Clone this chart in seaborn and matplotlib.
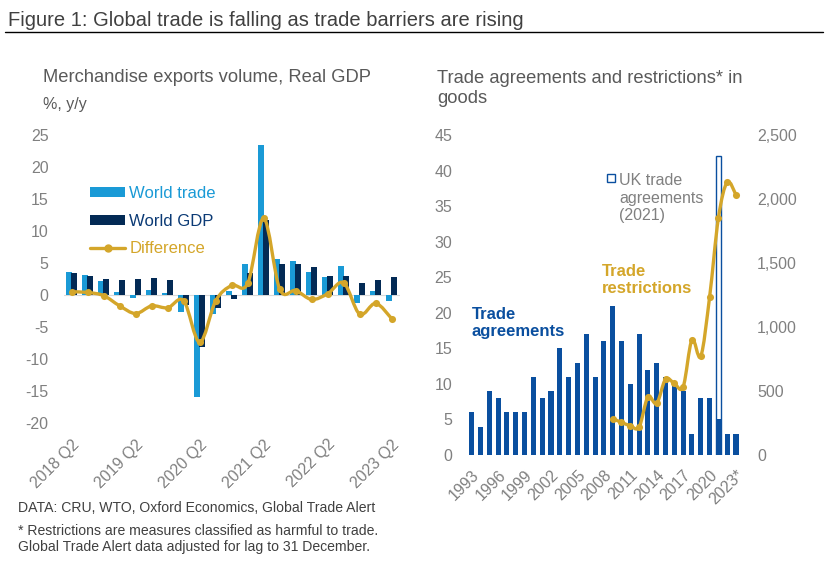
import numpy as np
import pandas as pd
import matplotlib
matplotlib.use("Agg")
import matplotlib.pyplot as plt
import seaborn as sns
from matplotlib.path import Path
from matplotlib.patches import PathPatch, Patch, Rectangle
from matplotlib.lines import Line2D
from matplotlib.ticker import FuncFormatter

# ---------------- data ----------------
quarters = ["2018 Q2", "2018 Q3", "2018 Q4", "2019 Q1", "2019 Q2", "2019 Q3", "2019 Q4",
            "2020 Q1", "2020 Q2", "2020 Q3", "2020 Q4", "2021 Q1", "2021 Q2", "2021 Q3",
            "2021 Q4", "2022 Q1", "2022 Q2", "2022 Q3", "2022 Q4", "2023 Q1", "2023 Q2"]
world_trade = [3.6, 3.1, 2.2, 0.4, -0.4, 0.8, 0.3, -2.6, -15.9, -2.9, 0.7, 4.9, 23.4, 5.7,
               5.3, 3.6, 2.8, 4.5, -1.3, 0.6, -1.0]
world_gdp = [3.4, 3.0, 2.5, 2.3, 2.5, 2.7, 2.3, -1.6, -8.2, -2.0, -0.6, 3.4, 11.7, 4.9,
             4.8, 4.4, 3.0, 3.0, 1.8, 2.3, 2.8]
difference = [0.5, 0.4, -0.1, -1.7, -2.9, -1.7, -2.0, -0.9, -7.4, -0.9, 1.5, 1.8, 12.0, 0.9,
              0.7, -0.7, 0.2, 1.9, -3.0, -1.3, -3.7]
quarter_ticks = ["2018 Q2", "2019 Q2", "2020 Q2", "2021 Q2", "2022 Q2", "2023 Q2"]

years = ["1993", "1994", "1995", "1996", "1997", "1998", "1999", "2000", "2001", "2002",
         "2003", "2004", "2005", "2006", "2007", "2008", "2009", "2010", "2011", "2012",
         "2013", "2014", "2015", "2016", "2017", "2018", "2019", "2020", "2021", "2022", "2023*"]
agreements = [6, 4, 9, 8, 6, 6, 6, 11, 8, 9, 15, 11, 13, 17, 11, 16, 21, 16, 10, 17,
              12, 13, 11, 10, 9, 3, 8, 8, 5, 3, 3]
uk_year = "2021"
uk_agreements = 37
restriction_years = ["2009", "2010", "2011", "2012", "2013", "2014", "2015", "2016",
                     "2017", "2018", "2019", "2020", "2021", "2022", "2023*"]
restrictions = [284, 255, 229, 218, 453, 403, 592, 560, 532, 900, 771, 1232, 1850, 2132, 2032]
year_ticks = ["1993", "1996", "1999", "2002", "2005", "2008", "2011", "2014", "2017", "2020", "2023*"]

# ---------------- style ----------------
LIGHT = "#1a9ad6"
NAVY = "#032a55"
GOLD = "#d4a62a"
BLUE = "#0a4f9f"
TICK = "#808080"
SUB = "#595959"

sns.set_style("white")
plt.rcParams["font.family"] = ["Liberation Sans", "DejaVu Sans"]
plt.rcParams["axes.unicode_minus"] = False

W, H = 826, 574
fig = plt.figure(figsize=(W / 100, H / 100), dpi=100)


def fx(px):
    return px / W


def fy(py):
    return 1 - py / H


def smooth_path(x, y):
    x = np.asarray(x, float)
    y = np.asarray(y, float)
    pts = np.column_stack([x, y])
    n = len(pts)
    verts = [pts[0]]
    codes = [Path.MOVETO]
    for i in range(n - 1):
        p0 = pts[i - 1] if i > 0 else pts[i]
        p1 = pts[i]
        p2 = pts[i + 1]
        p3 = pts[i + 2] if i + 2 < n else pts[i + 1]
        c1 = p1 + (p2 - p0) / 6.0
        c2 = p2 - (p3 - p1) / 6.0
        verts += [c1, c2, p2]
        codes += [Path.CURVE4] * 3
    return Path(verts, codes)


# ---------------- left chart ----------------
ax1 = fig.add_axes([fx(63.7), fy(423), fx(399.7) - fx(63.7), fy(135) - fy(423)])
df_left = pd.DataFrame({
    "quarter": quarters * 2,
    "value": world_trade + world_gdp,
    "series": ["World trade"] * len(quarters) + ["World GDP"] * len(quarters),
})
ax1.axhline(0, color="#d9d9d9", lw=0.8, zorder=0)
sns.barplot(data=df_left, x="quarter", y="value", hue="series", order=quarters,
            hue_order=["World trade", "World GDP"], palette=[LIGHT, NAVY],
            width=0.62, dodge=True, errorbar=None, saturation=1, legend=False, ax=ax1)
for p in ax1.patches:
    c = p.get_x() + p.get_width() / 2
    p.set_x(c - 0.2)
    p.set_width(0.4)
    p.set_linewidth(0)

qpos = np.arange(len(quarters))
ax1.add_patch(PathPatch(smooth_path(qpos, difference), fill=False, edgecolor=GOLD,
                        lw=2.4, zorder=4, capstyle="round", joinstyle="round"))
sns.scatterplot(x=qpos, y=difference, color=GOLD, s=26, edgecolor=GOLD, linewidth=0,
                zorder=5, ax=ax1, legend=False)

ax1.set_xlim(-0.5, len(quarters) - 0.5)
ax1.set_ylim(-20, 25)
ax1.set_yticks(range(-20, 30, 5))
ax1.set_xticks([quarters.index(q) for q in quarter_ticks])
ax1.set_xticklabels(quarter_ticks, rotation=45, ha="right", rotation_mode="anchor")
ax1.set_xlabel("")
ax1.set_ylabel("")
ax1.tick_params(axis="both", length=0, labelsize=11.5, labelcolor=TICK)
ax1.tick_params(axis="y", pad=11)
ax1.tick_params(axis="x", pad=10)
for s in ax1.spines.values():
    s.set_visible(False)

handles = [Patch(facecolor=LIGHT, linewidth=0), Patch(facecolor=NAVY, linewidth=0),
           Line2D([], [], color=GOLD, lw=2.4, marker="o", ms=5)]
leg = ax1.legend(handles, ["World trade", "World GDP", "Difference"], loc="upper left",
                 bbox_to_anchor=(fx(90), fy(186)), bbox_transform=fig.transFigure,
                 frameon=False, borderpad=0, borderaxespad=0, handlelength=2.1,
                 handleheight=0.5, handletextpad=0.25, labelspacing=0.76, fontsize=12)
for t, c in zip(leg.get_texts(), [LIGHT, "#0b3a75", GOLD]):
    t.set_color(c)

# ---------------- right chart ----------------
ax2 = fig.add_axes([fx(467.3), fy(455), fx(740.4) - fx(467.3), fy(135) - fy(455)])
df_uk = pd.DataFrame({"year": [uk_year],
                      "count": [agreements[years.index(uk_year)] + uk_agreements]})
sns.barplot(data=df_uk, x="year", y="count", order=years, color="white",
            edgecolor=BLUE, linewidth=1, width=0.57, saturation=1, errorbar=None, ax=ax2)
df_right = pd.DataFrame({"year": years, "count": agreements})
sns.barplot(data=df_right, x="year", y="count", order=years, color=BLUE,
            width=0.57, saturation=1, errorbar=None, linewidth=0, ax=ax2)
ax2.set_xlim(-0.5, len(years) - 0.5)
ax2.set_ylim(0, 45)
ax2.set_yticks(range(0, 50, 5))
ax2.set_xticks([years.index(y) for y in year_ticks])
ax2.set_xticklabels(year_ticks, rotation=45, ha="right", rotation_mode="anchor")
ax2.set_xlabel("")
ax2.set_ylabel("")
ax2.tick_params(axis="both", length=0, labelsize=11.5, labelcolor=TICK)
ax2.tick_params(axis="y", pad=11)
ax2.tick_params(axis="x", pad=9)
for s in ax2.spines.values():
    s.set_visible(False)

ax2r = ax2.twinx()
rpos = np.array([years.index(y) for y in restriction_years], float)
ax2r.add_patch(PathPatch(smooth_path(rpos, restrictions), fill=False, edgecolor=GOLD,
                         lw=2.4, zorder=4, capstyle="round", joinstyle="round"))
sns.scatterplot(x=rpos, y=restrictions, color=GOLD, s=26, edgecolor=GOLD, linewidth=0,
                zorder=5, ax=ax2r, legend=False)
ax2r.set_xlim(-0.5, len(years) - 0.5)
ax2r.set_ylim(0, 2500)
ax2r.set_yticks(range(0, 3000, 500))
ax2r.yaxis.set_major_formatter(FuncFormatter(lambda v, p: f"{int(v):,}"))
ax2r.set_ylabel("")
ax2r.tick_params(axis="y", length=0, labelsize=11.5, labelcolor=TICK, pad=12)
for s in ax2r.spines.values():
    s.set_visible(False)
ax2r.grid(False)

# ---------------- texts ----------------
fig.text(fx(8), fy(20), "Figure 1: Global trade is falling as trade barriers are rising",
         fontsize=14.5, color="#404040", va="center", ha="left")
fig.add_artist(Line2D([fx(5), fx(823)], [fy(32), fy(32)], color="black", lw=1,
                      transform=fig.transFigure))
fig.text(fx(43), fy(78), "Merchandise exports volume, Real GDP", fontsize=13.2,
         color=SUB, va="center", ha="left")
fig.text(fx(43), fy(105), "%, y/y", fontsize=11.5, color=SUB, va="center", ha="left")
fig.text(fx(437), fy(88.5), "Trade agreements and restrictions* in\ngoods", fontsize=13.2,
         color=SUB, va="center", ha="left", linespacing=1.18)

fig.text(fx(472), fy(323), "Trade\nagreements", fontsize=12, fontweight="bold",
         color=BLUE, va="center", ha="left", linespacing=1.1)
fig.text(fx(601.5), fy(280), "Trade\nrestrictions", fontsize=12, fontweight="bold",
         color=GOLD, va="center", ha="left", linespacing=1.1)
fig.add_artist(Rectangle((fx(607), fy(182)), fx(8), 8 / H, transform=fig.transFigure,
                         fill=False, edgecolor=BLUE, lw=1))
fig.text(fx(619), fy(198), "UK trade\nagreements\n(2021)", fontsize=11.5, color=TICK,
         va="center", ha="left", linespacing=1.2)

fig.text(fx(18), fy(508), "DATA: CRU, WTO, Oxford Economics, Global Trade Alert",
         fontsize=10.1, color="#404040", va="center", ha="left")
fig.text(fx(18), fy(539), "* Restrictions are measures classified as harmful to trade.\n"
         "Global Trade Alert data adjusted for lag to 31 December.",
         fontsize=10.1, color="#404040", va="center", ha="left", linespacing=1.15)

fig.savefig("out.png", dpi=100)
